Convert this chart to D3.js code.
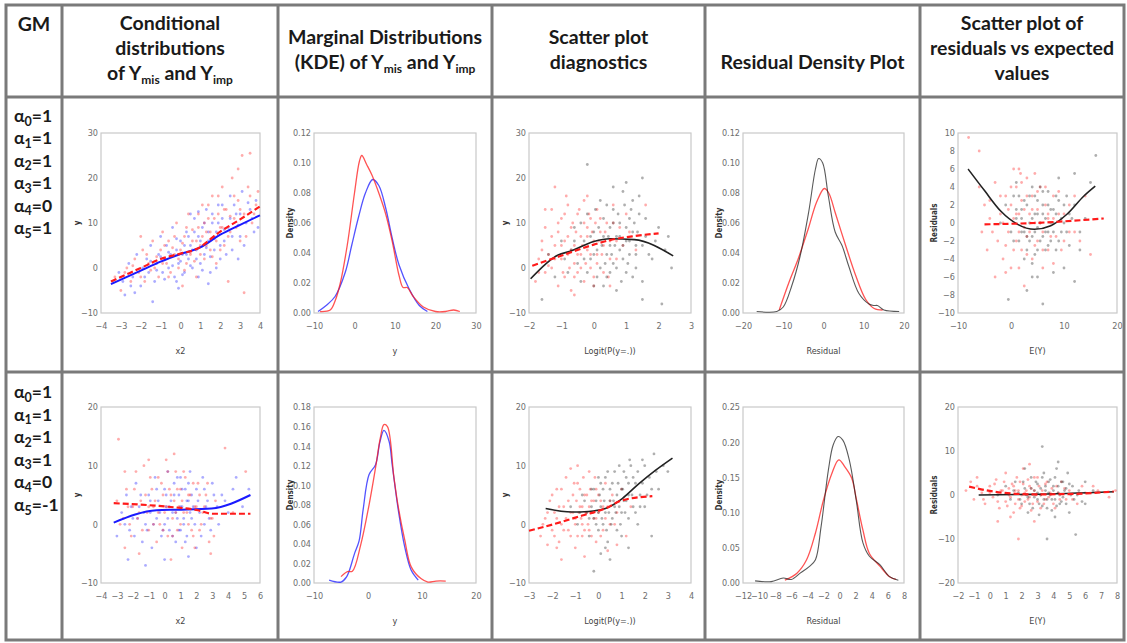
<!DOCTYPE html>
<html lang="en">
<head>
<meta charset="UTF-8">
<title>GM diagnostics table</title>
<script src="https://d3js.org/d3.v7.min.js"></script>
<style>
  body { margin: 0; background: #fff; }
  .hdr { font-family: Lato, "Open Sans", sans-serif; font-weight: 700; font-size: 19.5px; fill: #1a1a1a; text-anchor: middle; }
  .gm { font-family: Lato, "Noto Sans", sans-serif; font-weight: 700; font-size: 17.5px; fill: #1a1a1a; }
  .xlab { font-family: "Liberation Sans Narrow", "DejaVu Sans Condensed", sans-serif; font-size: 9px; fill: #444; text-anchor: middle; }
  .ylab { font-family: "Liberation Sans Narrow", "DejaVu Sans Condensed", sans-serif; font-size: 8px; font-weight: 700; fill: #333; text-anchor: middle; }
</style>
</head>
<body>
<svg id="fig" width="1127" height="643"></svg>
<script>
// ---- header / row labels ----
const headers = [
  ["GM"],
  ["Conditional", "distributions", "of Y_{mis} and Y_{imp}"],
  ["Marginal Distributions", "(KDE) of Y_{mis} and Y_{imp}"],
  ["Scatter plot", "diagnostics"],
  ["Residual Density Plot"],
  ["Scatter plot of", "residuals vs expected", "values"]
];
const gmRow1 = ["1", "1", "1", "1", "0", "1"];
const gmRow2 = ["1", "1", "1", "1", "0", "-1"];

// ---- tick labels ----
const r1c1XTicks = [-4, -3, -2, -1, 0, 1, 2, 3, 4];
const r1c1YTicks = [-10, 0, 10, 20, 30];
const r1c2XTicks = [-10, 0, 10, 20, 30];
const r1c2YTicks = [0, 0.02, 0.04, 0.06, 0.08, 0.10, 0.12];
const r1c3XTicks = [-2, -1, 0, 1, 2, 3];
const r1c3YTicks = [-10, 0, 10, 20, 30];
const r1c4XTicks = [-20, -10, 0, 10, 20];
const r1c4YTicks = [0, 0.02, 0.04, 0.06, 0.08, 0.10, 0.12];
const r1c5XTicks = [-10, 0, 10, 20];
const r1c5YTicks = [-10, -8, -6, -4, -2, 0, 2, 4, 6, 8, 10];
const r2c1XTicks = [-4, -3, -2, -1, 0, 1, 2, 3, 4, 5, 6];
const r2c1YTicks = [-10, 0, 10, 20];
const r2c2XTicks = [-10, 0, 10, 20];
const r2c2YTicks = [0, 0.02, 0.04, 0.06, 0.08, 0.10, 0.12, 0.14, 0.16, 0.18];
const r2c3XTicks = [-3, -2, -1, 0, 1, 2, 3, 4];
const r2c3YTicks = [-10, 0, 10, 20];
const r2c4XTicks = [-12, -10, -8, -6, -4, -2, 0, 2, 4, 6, 8];
const r2c4YTicks = [0, 0.05, 0.10, 0.15, 0.20, 0.25];
const r2c5XTicks = [-2, -1, 0, 1, 2, 3, 4, 5, 6, 7, 8];
const r2c5YTicks = [-20, -10, 0, 10, 20];

// ---- row 1 : conditional distributions (x2, y) ----
const r1c1Blue = [[-3.4,-3],[-3.1,-1],[-2.8,-6],[-2.6,1],[-2.4,-2],[-2.2,3],[-2.0,-4],[-1.9,0],[-1.7,2],[-1.6,-1],[-1.5,5],[-1.3,-3],[-1.2,1],[-1.1,3],[-1.0,7],[-0.9,-1],[-0.8,2],[-0.7,5],[-0.6,0],[-0.5,3],[-0.4,9],[-0.3,-2],[-0.2,4],[-0.1,1],[0.0,6],[0.1,3],[0.2,-1],[0.3,8],[0.4,2],[0.5,5],[0.6,0],[0.7,11],[0.8,4],[0.9,7],[1.0,1],[1.1,9],[1.2,3],[1.3,13],[1.4,6],[1.5,-1],[1.6,10],[1.7,4],[1.8,8],[1.9,14],[2.0,2],[2.1,11],[2.2,6],[2.4,9],[2.5,16],[2.6,4],[2.8,12],[3.0,7],[3.1,17],[3.3,10],[3.5,13],[3.7,8],[3.8,15],[-2.3,-5.5],[-0.2,-3],[0.9,-2],[-1.4,-7.5],[0.5,12],[2.9,2],
  [-1.8,-2],[-1.5,1.5],[-1.2,-0.5],[-1.0,2.5],[-0.8,-2.5],[-0.6,3.5],[-0.4,0.5],[-0.2,6.5],[0.0,1.5],[0.1,-1.5],[0.2,5],[0.3,3],[0.4,7],[0.5,0.5],[0.6,4],[0.7,8],[0.8,2],[1.0,6],[1.1,-0.5],[1.2,10],[1.3,4.5],[1.4,8],[1.5,2.5],[1.6,12],[1.7,6.5],[1.8,0],[1.9,10],[2.0,5],[2.1,14],[2.2,8.5],[2.3,3],[2.5,11],[2.6,7],[2.7,14],[2.9,9.5],[3.0,12],[3.2,5],[3.4,14.5],[3.6,11],[3.9,9],[-2.5,-4],[-2.9,-3],[-0.1,-4.5],[0.9,12.5],[1.4,-3.5]];
const r1c1Red = [[-3.3,-2],[-3.0,-5],[-2.7,0],[-2.5,-3],[-2.3,2],[-2.1,-1],[-1.9,4],[-1.8,-3],[-1.6,1],[-1.4,6],[-1.3,0],[-1.1,-2],[-1.0,4],[-0.9,8],[-0.7,1],[-0.6,6],[-0.5,-1],[-0.3,3],[-0.2,10],[-0.1,0],[0.0,4],[0.2,7],[0.3,1],[0.4,12],[0.5,3],[0.6,6],[0.8,-2],[0.9,9],[1.0,5],[1.1,14],[1.2,2],[1.3,8],[1.4,11],[1.5,4],[1.6,16],[1.7,7],[1.8,1],[1.9,12],[2.0,9],[2.1,18],[2.2,5],[2.3,13],[2.5,8],[2.6,20],[2.7,11],[2.9,15],[3.0,6],[3.1,25],[3.2,12],[3.4,18],[3.5,25.5],[3.6,10],[3.8,14],[3.2,-5.5],[0.1,-4],[-2.0,7],
  [-2.8,-1],[-2.4,0.5],[-2.0,-2],[-1.7,3],[-1.5,-0.5],[-1.2,2.5],[-0.9,1],[-0.8,5],[-0.6,-2],[-0.4,4.5],[-0.3,7],[-0.1,2],[0.1,5.5],[0.2,-0.5],[0.3,9],[0.5,3.5],[0.6,8.5],[0.7,1.5],[0.8,6],[0.9,12],[1.0,3],[1.1,7],[1.2,10],[1.3,5],[1.4,14],[1.5,8],[1.6,2.5],[1.7,11],[1.8,6],[1.9,16],[2.0,4],[2.1,9],[2.2,13],[2.4,7],[2.5,11.5],[2.7,16],[2.8,9],[3.0,13],[3.3,7],[3.5,16],[3.7,12],[3.9,17],[2.9,22],[2.4,-3]];
const r1c1BlueFit = [[-3.5,-3.6],[-2,-0.6],[-1,1.4],[0,3.1],[1,4.6],[2,7.4],[3,9.6],[4,11.7]];
const r1c1RedFit = [[-3.5,-3.0],[-2,0.0],[-1,2.0],[0,3.2],[0.8,4.2],[2,8.1],[3,10.8],[4,13.7]];

// ---- row 1 : marginal KDE (y, density) ----
const r1c2Blue = [[-9,0.001],[-7,0.005],[-4.8,0.011],[-2.3,0.027],[-0.7,0.045],[1,0.064],[2.7,0.080],[4.5,0.089],[6,0.085],[7.7,0.070],[9.3,0.050],[11,0.032],[13.5,0.016],[16,0.005],[18,0.001]];
const r1c2Red = [[-8.5,0.001],[-6,0.002],[-4.8,0.008],[-3.5,0.020],[-1.8,0.045],[0,0.080],[1.2,0.101],[1.8,0.105],[3,0.099],[4.3,0.092],[6,0.080],[7.7,0.066],[9.3,0.048],[11,0.025],[12,0.017],[13,0.017],[14.5,0.011],[17,0.004],[20,0.001],[22.5,0.001],[24.5,0.002],[26,0.001]];

// ---- row 1 : scatter diagnostics (logit, y) ----
const r1c3Red = [[-1.8,-3],[-1.7,2],[-1.6,6],[-1.5,-1],[-1.5,9],[-1.4,3],[-1.3,13],[-1.3,0],[-1.2,5],[-1.1,-4],[-1.1,8],[-1.0,2],[-1.0,11],[-0.9,-2],[-0.9,6],[-0.8,14],[-0.8,3],[-0.7,-5],[-0.7,9],[-0.6,1],[-0.6,5],[-0.5,12],[-0.5,-1],[-0.4,7],[-0.4,3],[-0.3,15],[-0.3,-3],[-0.2,9],[-0.2,4],[-0.1,0],[-0.1,11],[0.0,6],[0.0,-2],[0.1,13],[0.1,3],[0.2,8],[0.3,-1],[0.3,5],[0.4,10],[0.5,2],[0.6,14],[0.7,6],[0.8,9],[1.0,12],[1.3,4],[1.6,14],[-1.2,18],[-0.6,-6],[0.5,-4],[-0.85,16],
  [-1.6,4],[-1.4,0.5],[-1.3,7],[-1.2,2],[-1.1,10],[-1.0,5],[-0.95,-1],[-0.9,12],[-0.8,7],[-0.75,0],[-0.7,4],[-0.65,10],[-0.6,-2],[-0.55,8],[-0.5,3],[-0.45,13],[-0.4,0],[-0.35,5],[-0.3,10],[-0.25,1],[-0.2,7],[-0.15,12],[-0.1,3],[-0.05,8],[0,-4],[0.05,10],[0.1,1],[0.15,6],[0.2,11],[0.25,3],[0.35,8],[0.45,-2],[0.5,6],[0.6,10],[0.7,2],[0.9,5],[1.1,8],[-1.5,13],[-1.7,-1],[-0.2,16]];
const r1c3Black = [[-1.6,-7],[-1.4,3],[-1.2,-2],[-1.0,6],[-0.8,-1],[-0.7,4],[-0.6,9],[-0.5,1],[-0.4,-3],[-0.3,6],[-0.2,12],[-0.1,2],[0.0,8],[0.0,-4],[0.1,4],[0.2,15],[0.2,0],[0.3,7],[0.3,11],[0.4,3],[0.4,-2],[0.5,9],[0.5,5],[0.6,13],[0.6,1],[0.7,7],[0.7,-5],[0.8,4],[0.8,10],[0.9,2],[0.9,17],[1.0,6],[1.0,-1],[1.1,11],[1.1,3],[1.2,8],[1.2,15],[1.3,0],[1.3,5],[1.4,12],[1.5,-3],[1.6,7],[1.8,2],[2.0,9],[2.2,4],[2.4,0],[1.5,20],[-0.2,23],[0.6,18],[1.5,-7],[2.1,-8],
  [-0.9,2],[-0.6,6],[-0.4,10],[-0.3,2],[-0.2,-1],[-0.1,7],[0,3],[0.05,13],[0.1,-2],[0.15,9],[0.25,5],[0.3,-4],[0.35,1],[0.4,14],[0.45,7],[0.5,-1],[0.55,3],[0.6,10],[0.65,5],[0.7,0],[0.75,12],[0.8,7],[0.85,-3],[0.9,5],[0.95,14],[1.0,9],[1.05,1],[1.1,6],[1.15,13],[1.2,-2],[1.25,10],[1.3,3],[1.35,8],[1.4,16],[1.5,5],[1.6,11],[1.7,3],[1.9,6],[2.3,7],[1.0,19]];
const r1c3BlackFit = [[-1.95,-2.4],[-1.1,2.9],[-0.73,3.7],[0,5.9],[0.5,6.5],[1.25,6.3],[2.45,2.7]];
const r1c3RedFit = [[-1.9,0.5],[-1.1,2.5],[0,5.2],[0.5,6.2],[1.25,7.1],[2,7.7]];

// ---- row 1 : residual density (residual, density) ----
const r1c4Black = [[-16.6,0.001],[-11.6,0.001],[-10,0.004],[-7.9,0.018],[-5.8,0.038],[-3.7,0.067],[-2,0.096],[-1.2,0.103],[-0.2,0.100],[1.2,0.078],[2.9,0.054],[4.6,0.045],[6.3,0.031],[8.8,0.013],[11.3,0.006],[12.5,0.005],[13.4,0.005],[15,0.002],[18.8,0.001]];
const r1c4Red = [[-11,0.002],[-8.5,0.021],[-6.3,0.036],[-3.8,0.056],[-1.7,0.074],[0.2,0.083],[1.3,0.080],[2.9,0.067],[5.5,0.045],[8,0.025],[10.5,0.009],[12.6,0.003],[14.7,0.002]];

// ---- row 1 : residuals vs expected (E(Y), residual) ----
const r1c5Red = [[-8,9.5],[-6,8],[-5.5,-1],[-5,2],[-4.5,-3],[-4,0.5],[-3,4.5],[-2.5,-2],[-2,1],[-1.5,-4],[-1,3],[-0.5,-1],[0,2],[0,-5],[0.5,0.5],[1,4],[1,-2],[1.5,6],[1.5,1],[2,-3],[2,2.5],[2.5,-0.5],[3,5],[3,-1.5],[3.5,1],[4,-4],[4,3],[4.5,0],[5,-2],[5,1.5],[5.5,4],[6,-1],[6.5,2],[7,-3],[7,0.5],[8,3],[8.5,-1.5],[9,1],[10,-2],[11,2],[12,-1],[14,3],[15,-3.5],[-3,-6],[2.5,-7],[1.8,5.5],[-1,-5.5],[8,-4.5],
  [-4,2.5],[-3.5,-1],[-2,3],[-1.5,0],[-1,-2.5],[-0.5,1.5],[0,4],[0.5,-3],[1,1],[1.5,-1],[2,4.5],[2.5,1.5],[3,-3.5],[3,3],[3.5,-1],[4,1.5],[4.5,-2.5],[5,3.5],[5.5,0],[6,-3],[6.5,4],[7,1],[7.5,-1.5],[8,0.5],[9,3.5],[9.5,-3],[10,1],[11,-1],[12,3],[13,-2],[-6,4],[1.5,-5],[4.5,5.5],[0.5,6],[6,-5]];
const r1c5Black = [[-2,0],[-1,2],[0,-1],[0.5,3],[1,0.5],[1.5,-2],[2,1.5],[2.5,-1],[3,2],[3,-3],[3.5,0],[4,4],[4,-1.5],[4.5,1],[4.5,-3.5],[5,2.5],[5,-0.5],[5.5,-2],[6,1],[6,3.5],[6.5,-1],[7,2],[7,-2.5],[7.5,0],[8,-1],[8,1.5],[8.5,3],[9,-2],[9.5,0.5],[10,2],[10.5,-1],[11,1],[12,5.5],[13,-1],[14,0.5],[15,4.5],[16,7.5],[5,-6],[3,-7.5],[10,-5],[-0.5,-8.5],[6,-9],[12,-6.5],[4,-4.5],
  [0.5,-2],[1,1.5],[1.5,3],[2,-1],[2,0.5],[2.5,2.5],[3,-1.5],[3.5,3],[3.5,-2],[4,0.5],[4.5,3],[4.5,-1],[5,-3],[5,1],[5.5,4],[5.5,0],[6,-1.5],[6,2],[6.5,-3],[6.5,0.5],[7,3.5],[7,-1],[7.5,1.5],[7.5,-2],[8,0],[8.5,-3],[8.5,1],[9,2.5],[9.5,-1],[10,0],[10.5,3],[11,-2.5],[11.5,0.5],[12,2],[13,-3],[2.5,-4],[4,-6],[8,-5.5],[1,4.5],[9,5]];
const r1c5BlackFit = [[-8.1,6.0],[-5,3.6],[-1.9,1.3],[1.25,-0.15],[4.4,-0.7],[7.5,-0.3],[10.6,1.0],[13.75,3.0],[15.9,4.1]];
const r1c5RedFit = [[-5,-0.15],[4.4,0.0],[17.5,0.5]];

// ---- row 2 : conditional distributions ----
const r2c1Blue = [[-3,-2],[-2.7,2],[-2.4,5],[-2.2,-1],[-2,1],[-1.8,7],[-1.6,3],[-1.4,-3],[-1.2,0],[-1,5],[-0.9,2],[-0.8,-4],[-0.6,8],[-0.5,1],[-0.4,4],[-0.2,-2],[0,6],[0,0],[0.1,3],[0.2,9],[0.3,-1],[0.4,4],[0.5,2],[0.6,7],[0.7,-3],[0.8,1],[0.9,5],[1,8],[1,-1],[1.1,3],[1.2,0],[1.3,6],[1.4,-2],[1.5,4],[1.6,9],[1.7,1],[1.8,3],[2,-4],[2,6],[2.2,2],[2.4,8],[2.5,0],[2.7,4],[2.9,-1],[3,7],[3.3,3],[3.6,5],[4,2],[4.5,8],[5.3,6],[-2.3,-6],[1.5,-5.5],[-1.2,-7],
  [-2.5,0],[-2.1,3],[-1.9,-2],[-1.7,1],[-1.5,5],[-1.3,2],[-1.1,-1],[-0.9,4],[-0.7,0],[-0.5,6],[-0.3,2],[-0.1,-1],[0.1,5],[0.2,1],[0.3,3],[0.5,-2],[0.6,5],[0.7,2],[0.8,8],[0.9,-1],[1.0,3],[1.1,6],[1.2,1],[1.3,-3],[1.4,4],[1.5,7],[1.6,2],[1.7,5],[1.9,0],[2.1,4],[2.3,-2],[2.5,6],[2.6,3],[2.8,1],[3.1,5],[3.4,0],[3.8,4],[4.3,6],[4.9,3],[0,-6]];
const r2c1Red = [[-2.9,14.5],[-3,4],[-2.8,0],[-2.5,9],[-2.3,3],[-2.1,-2],[-1.9,6],[-1.7,1],[-1.5,4],[-1.3,10],[-1.1,2],[-1,-1],[-0.8,6],[-0.7,3],[-0.5,-3],[-0.4,8],[-0.3,0],[-0.1,5],[0,2],[0.1,11],[0.2,-2],[0.3,6],[0.5,1],[0.6,4],[0.7,9],[0.8,-1],[0.9,3],[1,6],[1.1,-4],[1.2,2],[1.3,8],[1.5,0],[1.6,5],[1.8,-2],[1.9,3],[2.1,7],[2.2,-1],[2.4,2],[2.6,5],[2.8,-3],[2.9,-5],[3,1],[3.2,4],[3.8,13],[4.3,2],[5.1,9],[0.4,-6],[-1.6,-5],
  [-2.6,1],[-2.4,6],[-2.2,0],[-2.0,3],[-1.8,9],[-1.6,2],[-1.4,-1],[-1.2,5],[-1.0,3],[-0.9,8],[-0.7,0],[-0.6,4],[-0.4,2],[-0.2,7],[-0.1,-1],[0.1,3],[0.2,9],[0.4,5],[0.5,-2],[0.7,2],[0.8,6],[1.0,0],[1.1,4],[1.2,9],[1.4,2],[1.5,5],[1.7,-1],[1.8,7],[2.0,3],[2.2,5],[2.3,0],[2.5,3],[2.7,7],[2.9,1],[3.1,-2],[-2.5,-4],[-1.0,11],[0.6,12],[1.9,-4]];
const r2c1BlueFit = [[-3.2,0.3],[-0.5,2.4],[0.8,2.5],[2.95,2.7],[5.4,5.0]];
const r2c1RedFit = [[-3.2,3.6],[0.2,3.0],[2.1,2.4],[3,1.8],[5.4,1.8]];

// ---- row 2 : marginal KDE ----
const r2c2Blue = [[-7.2,0.003],[-5,0.001],[-4,0.006],[-3.5,0.012],[-2.5,0.030],[-1.65,0.043],[-0.9,0.075],[0.2,0.111],[1.4,0.121],[2.2,0.144],[2.95,0.156],[3.9,0.145],[4.5,0.120],[5.6,0.075],[6.8,0.037],[8,0.013],[9.3,0.003]];
const r2c2Red = [[-5,0.0065],[-3.8,0.0117],[-2.9,0.012],[-1.35,0.039],[0.2,0.080],[1.4,0.118],[2.3,0.149],[2.95,0.162],[3.6,0.160],[4.8,0.108],[5.6,0.078],[6.8,0.044],[8,0.0165],[9.8,0.0045],[11.1,0.001],[12.6,0.002],[14.4,0.002]];

// ---- row 2 : scatter diagnostics ----
const r2c3Red = [[-2.5,-2],[-2.3,1],[-2.1,4],[-2,-1],[-1.9,2],[-1.8,6],[-1.7,-3],[-1.6,0],[-1.5,3],[-1.4,8],[-1.3,-1],[-1.2,2],[-1.1,5],[-1,-4],[-1,1],[-0.9,7],[-0.8,3],[-0.7,-2],[-0.7,0],[-0.6,5],[-0.5,2],[-0.4,9],[-0.4,-1],[-0.3,4],[-0.2,1],[-0.1,6],[-0.1,-3],[0,2],[0.1,4],[0.2,-1],[0.3,7],[0.4,3],[0.5,0],[0.6,5],[0.8,2],[1,6],[1.2,-2],[1.4,3],[-1.6,-6],[-0.6,-5.5],[-1.2,9.5],[0.4,-4.5],[-2.2,-3.5],[0.8,-3.5],
  [-2.4,0],[-2.2,2],[-2,5],[-1.9,-2],[-1.8,1],[-1.7,3],[-1.6,6],[-1.5,-1],[-1.4,1],[-1.3,4],[-1.2,-2],[-1.1,2],[-1.05,7],[-1,0],[-0.95,4],[-0.9,-2],[-0.85,2],[-0.8,6],[-0.75,1],[-0.7,3],[-0.65,8],[-0.6,-1],[-0.55,2],[-0.5,5],[-0.45,0],[-0.4,3],[-0.35,6],[-0.3,-2],[-0.25,2],[-0.2,4],[-0.15,8],[-0.1,1],[0,5],[0.1,-2],[0.2,3],[0.3,1],[0.5,4],[0.7,0],[-1.8,-4],[-0.9,10]];
const r2c3Black = [[-1.2,3],[-0.9,0],[-0.7,5],[-0.5,2],[-0.4,-2],[-0.3,6],[-0.2,1],[-0.1,4],[0,-1],[0,8],[0.1,3],[0.2,0],[0.2,6],[0.3,2],[0.4,9],[0.4,-3],[0.5,4],[0.6,1],[0.6,7],[0.7,3],[0.8,-1],[0.8,5],[0.9,10],[1,2],[1,6],[1.1,4],[1.2,8],[1.3,1],[1.3,5],[1.4,10],[1.5,3],[1.6,7],[1.7,0],[1.8,5],[1.9,11],[2,3],[2.2,8],[2.4,12],[2.6,6],[2.8,10],[3,9],[0.1,-5],[1.3,-4],[-0.2,-8],[2.3,-2],[0.5,-6],
  [-0.8,2],[-0.6,4],[-0.4,1],[-0.3,3],[-0.2,6],[-0.1,0],[0,2],[0.05,5],[0.1,7],[0.15,1],[0.25,4],[0.3,8],[0.35,-1],[0.45,2],[0.5,6],[0.55,0],[0.65,4],[0.7,9],[0.75,2],[0.85,7],[0.9,3],[0.95,0],[1.05,6],[1.1,9],[1.15,2],[1.2,4],[1.3,7],[1.35,11],[1.45,5],[1.5,8],[1.6,2],[1.7,9],[1.8,3],[1.9,7],[2.0,10],[2.1,5],[2.3,6],[2.5,9],[0.3,-4],[1.0,-2]];
const r2c3BlackFit = [[-2.28,2.7],[-1.15,2.1],[-0.43,2.2],[0.3,2.7],[1.03,4.4],[1.74,6.9],[2.46,9.2],[3.2,11.3]];
const r2c3RedFit = [[-3,-1.1],[-1.87,0.1],[-0.7,1.5],[0.3,2.7],[1.03,4.1],[2.33,4.8]];

// ---- row 2 : residual density ----
const r2c4Black = [[-10.5,0.003],[-8.5,0.002],[-7,0.007],[-6,0.005],[-4.9,0.014],[-3.7,0.024],[-3,0.033],[-2.3,0.080],[-1.4,0.160],[-0.8,0.196],[-0.2,0.208],[0.4,0.203],[1.2,0.175],[2.06,0.118],[2.9,0.057],[3.7,0.038],[5,0.026],[6.2,0.009],[7.3,0.004]];
const r2c4Red = [[-6.8,0.004],[-5.3,0.014],[-4.1,0.033],[-3,0.071],[-2,0.118],[-0.95,0.156],[-0.1,0.175],[0.65,0.165],[1.5,0.149],[2.1,0.118],[2.9,0.075],[3.7,0.042],[5,0.024],[6.2,0.009],[7,0.005]];

// ---- row 2 : residuals vs expected ----
const r2c5Red = [[-1.5,1],[-1.2,3],[-1,-1],[-0.8,4],[-0.5,0.5],[-0.3,-2],[0,2],[0.2,-0.5],[0.4,3.5],[0.6,-3],[0.8,1],[1,-1.5],[1,5],[1.2,0],[1.4,2.5],[1.5,-4],[1.6,1],[1.8,-1],[1.9,3],[2,-2.5],[2.1,6],[2.2,0.5],[2.4,-1],[2.5,2],[2.6,-3.5],[2.8,1],[3,-1.5],[3,4],[3.2,0],[3.4,-2],[3.5,2.5],[3.7,-0.5],[3.9,1.5],[4.1,-3],[4.3,0.5],[4.5,3],[4.8,-1],[5,1],[5.5,-2],[6,0.5],[6.5,2],[7.5,-0.5],[7.9,1],[1.8,-10],[0.5,-6],[2.5,7],
  [-0.8,2],[-0.4,-1],[0,0.5],[0.3,2.5],[0.5,-1.5],[0.7,1],[0.9,3],[1.1,-2.5],[1.2,1.5],[1.3,-0.5],[1.5,2],[1.6,-2],[1.7,4],[1.8,1],[1.9,-3],[2,0],[2.1,2.5],[2.2,-1.5],[2.3,1],[2.4,3.5],[2.5,-0.5],[2.6,1.5],[2.7,-2],[2.8,4],[2.9,0],[3.1,2],[3.2,-3],[3.3,1],[3.5,-1],[3.6,3],[3.8,0.5],[4,-2],[4.2,2],[4.4,-1],[4.7,1.5],[5.2,-1],[5.8,2],[6.8,1],[1.3,-5],[2.8,-6]];
const r2c5Black = [[0.5,0],[1,2],[1.3,-1],[1.6,3],[1.8,0.5],[2,-2],[2.2,1.5],[2.4,-0.5],[2.6,4],[2.7,-3],[2.8,1],[3,-1],[3,2.5],[3.2,0],[3.3,-2.5],[3.4,5],[3.5,1],[3.6,-1],[3.7,3],[3.8,0],[3.9,-3.5],[4,2],[4.1,-1],[4.2,6],[4.3,0.5],[4.4,-2],[4.5,3],[4.6,-0.5],[4.8,1.5],[5,-4],[5.2,2],[5.5,0],[5.8,-1.5],[6,3],[6.5,1],[3.3,11],[3.6,-10],[5.4,-9],[4.3,7.5],[2.2,6],
  [1.5,1],[1.9,-1],[2.1,3],[2.3,0],[2.5,-2],[2.6,1.5],[2.8,-0.5],[2.9,3],[3.0,0.5],[3.1,-2],[3.2,1.5],[3.3,4],[3.4,-1],[3.5,2],[3.6,-3],[3.7,0.5],[3.8,3.5],[3.9,-1],[4.0,1],[4.1,4],[4.2,-2.5],[4.3,2],[4.4,0],[4.5,-1.5],[4.6,3],[4.7,1],[4.8,-2],[5.0,2.5],[5.1,0],[5.3,-1],[5.6,1],[6,-2],[4.1,-5],[3.1,-4.5],[4.9,5],[2.4,-4]];
const r2c5BlackFit = [[-0.7,0],[2.7,0.15],[7.8,0.75]];
const r2c5RedFit = [[-1.3,1.9],[0.2,0.8],[2.7,0.15],[4.8,0.2],[7.8,0.8]];

// ---- layout ----
const colEdges = [6, 62, 278, 492, 705, 920, 1124];
const rowEdges = [5, 97, 372, 640];
const headerLineY = [[24], [23, 48, 73], [37, 62], [37, 62], [62], [23, 48, 73]];
const colFrame = [null, [101, 260], [314, 476], [529, 691], [743, 904], [958, 1117]];
const rowFrame = [[133, 313], [407, 583]];

const RED = "#ff1a1a", BLUE = "#1a1aff", BLACK = "#222";
const fmtInt = d3.format("d"), fmt2 = d3.format(".2f");

const charts = [
  {row:0, col:1, xT:r1c1XTicks, yT:r1c1YTicks, xLab:"x2", yLab:"y",
   pts:[[r1c1Blue, BLUE], [r1c1Red, RED]], fits:[[r1c1BlueFit, BLUE, false], [r1c1RedFit, RED, true]]},
  {row:0, col:2, xT:r1c2XTicks, yT:r1c2YTicks, yFmt:fmt2, xLab:"y", yLab:"Density",
   kde:[[r1c2Blue, BLUE], [r1c2Red, RED]]},
  {row:0, col:3, xT:r1c3XTicks, yT:r1c3YTicks, xLab:"Logit(P(y=.))", yLab:"y",
   pts:[[r1c3Red, RED], [r1c3Black, BLACK]], fits:[[r1c3BlackFit, BLACK, false], [r1c3RedFit, RED, true]]},
  {row:0, col:4, xT:r1c4XTicks, yT:r1c4YTicks, yFmt:fmt2, xLab:"Residual", yLab:"Density",
   kde:[[r1c4Red, RED], [r1c4Black, BLACK]]},
  {row:0, col:5, xT:r1c5XTicks, yT:r1c5YTicks, xLab:"E(Y)", yLab:"Residuals",
   pts:[[r1c5Red, RED], [r1c5Black, BLACK]], fits:[[r1c5BlackFit, BLACK, false], [r1c5RedFit, RED, true]]},
  {row:1, col:1, xT:r2c1XTicks, yT:r2c1YTicks, xLab:"x2", yLab:"y",
   pts:[[r2c1Blue, BLUE], [r2c1Red, RED]], fits:[[r2c1BlueFit, BLUE, false], [r2c1RedFit, RED, true]]},
  {row:1, col:2, xT:r2c2XTicks, yT:r2c2YTicks, yFmt:fmt2, xLab:"y", yLab:"Density",
   kde:[[r2c2Blue, BLUE], [r2c2Red, RED]]},
  {row:1, col:3, xT:r2c3XTicks, yT:r2c3YTicks, xLab:"Logit(P(y=.))", yLab:"y",
   pts:[[r2c3Red, RED], [r2c3Black, BLACK]], fits:[[r2c3BlackFit, BLACK, false], [r2c3RedFit, RED, true]]},
  {row:1, col:4, xT:r2c4XTicks, yT:r2c4YTicks, yFmt:fmt2, xLab:"Residual", yLab:"Density",
   kde:[[r2c4Red, RED], [r2c4Black, BLACK]]},
  {row:1, col:5, xT:r2c5XTicks, yT:r2c5YTicks, xLab:"E(Y)", yLab:"Residuals",
   pts:[[r2c5Red, RED], [r2c5Black, BLACK]], fits:[[r2c5BlackFit, BLACK, false], [r2c5RedFit, RED, true]]}
];

const svg = d3.select("#fig");

// text with _{sub} markup; baseline placed on the text element's y
function richText(sel, str, subSize) {
  const parts = str.split(/(_\{[^}]*\})/).filter(s => s.length);
  let wasSub = false;
  parts.forEach(p => {
    if (p.startsWith("_{")) {
      sel.append("tspan").attr("font-size", subSize).attr("dy", 3.5).text(p.slice(2, -1));
      wasSub = true;
    } else {
      const t = sel.append("tspan").text(p);
      if (wasSub) t.attr("dy", -3.5);
      wasSub = false;
    }
  });
}

// headers (y values are visual line centres; baseline = centre + 7)
headers.forEach((lines, i) => {
  const cx = (colEdges[i] + colEdges[i + 1]) / 2;
  lines.forEach((ln, j) => {
    const t = svg.append("text").attr("class", "hdr")
      .attr("x", cx).attr("y", headerLineY[i][j] + 7);
    richText(t, ln, "12px");
  });
});

// GM alpha labels
[[gmRow1, 116, 22.4], [gmRow2, 392, 22.6]].forEach(([vals, y0, step]) => {
  vals.forEach((v, k) => {
    const t = svg.append("text").attr("class", "gm")
      .attr("x", 14).attr("y", y0 + k * step + 6);
    richText(t, "α_{" + k + "}=" + v, "12.5px");
  });
});

// charts
charts.forEach(c => {
  const [x0, x1] = colFrame[c.col];
  const [y0, y1] = rowFrame[c.row];
  const x = d3.scaleLinear().domain(d3.extent(c.xT)).range([x0, x1]);
  const y = d3.scaleLinear().domain(d3.extent(c.yT)).range([y1, y0]);
  const g = svg.append("g");

  g.append("rect").attr("x", x0).attr("y", y0)
    .attr("width", x1 - x0).attr("height", y1 - y0)
    .attr("fill", "none").attr("stroke", "#c9c9c9").attr("stroke-width", 1.2);

  const xa = g.append("g").attr("transform", `translate(0,${y1})`)
    .call(d3.axisBottom(x).tickValues(c.xT).tickSize(0).tickPadding(10).tickFormat(c.xFmt || fmtInt));
  const ya = g.append("g").attr("transform", `translate(${x0},0)`)
    .call(d3.axisLeft(y).tickValues(c.yT).tickSize(0).tickPadding(3).tickFormat(c.yFmt || fmtInt));
  [xa, ya].forEach(a => {
    a.select(".domain").remove();
    a.attr("font-family", null).attr("font-size", null);
    a.selectAll("text")
      .style("font-family", "'Liberation Sans Narrow', 'DejaVu Sans Condensed', sans-serif")
      .style("font-size", "9px").attr("fill", "#6e6e6e");
  });

  g.append("text").attr("class", "xlab")
    .attr("x", (x0 + x1) / 2).attr("y", y1 + 41).text(c.xLab);
  g.append("text").attr("class", "ylab")
    .attr("transform", `translate(${x0 - 21},${(y0 + y1) / 2}) rotate(-90)`).text(c.yLab);

  if (c.pts) {
    c.pts.forEach(([arr, col]) => {
      g.append("g").selectAll("circle").data(arr).join("circle")
        .attr("cx", d => x(d[0])).attr("cy", d => y(d[1])).attr("r", 1.4)
        .attr("fill", col).attr("fill-opacity", 0.36);
    });
    const line = d3.line().x(d => x(d[0])).y(d => y(d[1])).curve(d3.curveMonotoneX);
    c.fits.forEach(([arr, col, dashed]) => {
      g.append("path").datum(arr).attr("d", line)
        .attr("fill", "none").attr("stroke", col)
        .attr("stroke-width", dashed ? 2.2 : (col === BLACK ? 1.6 : 2))
        .attr("stroke-dasharray", dashed ? "6,3" : null);
    });
  }
  if (c.kde) {
    const line = d3.line().x(d => x(d[0])).y(d => y(d[1])).curve(d3.curveCatmullRom.alpha(0.5));
    c.kde.forEach(([arr, col]) => {
      g.append("path").datum(arr).attr("d", line)
        .attr("fill", "none").attr("stroke", col).attr("stroke-opacity", 0.75)
        .attr("stroke-width", col === BLACK ? 1.1 : 1.3);
    });
  }
});

// table grid
const grid = svg.append("g").attr("stroke", "#7a7a7a").attr("stroke-width", 3).attr("fill", "none");
grid.append("rect").attr("x", colEdges[0]).attr("y", rowEdges[0])
  .attr("width", colEdges[6] - colEdges[0]).attr("height", rowEdges[3] - rowEdges[0]);
grid.selectAll("line.v").data(colEdges.slice(1, -1)).join("line")
  .attr("x1", d => d).attr("x2", d => d).attr("y1", rowEdges[0]).attr("y2", rowEdges[3]);
grid.selectAll("line.h").data(rowEdges.slice(1, -1)).join("line")
  .attr("y1", d => d).attr("y2", d => d).attr("x1", colEdges[0]).attr("x2", colEdges[6]);
</script>
</body>
</html>
